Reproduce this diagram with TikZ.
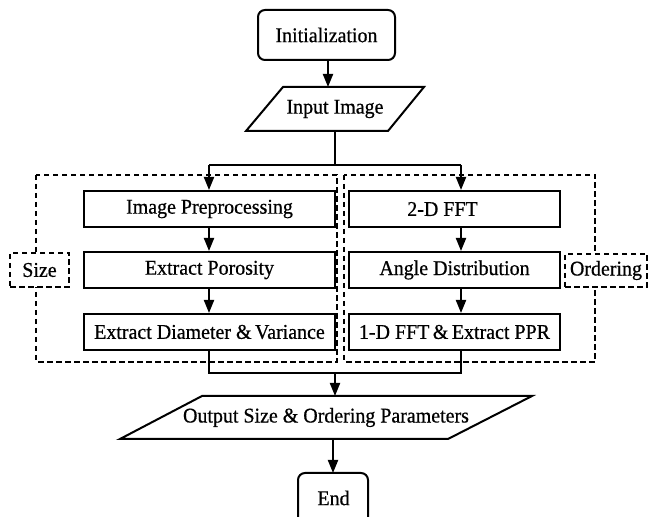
\documentclass[tikz,border=0pt]{standalone}
\usepackage{fontspec}
\setmainfont{Liberation Serif}[FakeStretch=0.95,FakeBold=0.6]
\usetikzlibrary{arrows.meta}
\begin{document}
\begin{tikzpicture}[x=0.5pt,y=-0.5pt,
  line width=1pt,
  txt/.style={font=\fontsize{10.5pt}{12pt}\selectfont, inner sep=0pt},
  procbox/.style={draw, txt, minimum height=18pt},
  leftbox/.style={procbox, minimum width=125.5pt},
  rightbox/.style={procbox, minimum width=105.5pt},
  termbox/.style={draw, rounded corners=3.5pt, txt},
  dashbox/.style={draw, dash pattern=on 2.75pt off 1.75pt, line width=1pt},
  lab/.style={dashbox, fill=white, txt},
  arr/.style={-{Triangle[length=6.5pt,width=5pt]}}
]
\useasboundingbox (0,0) rectangle (648,517);

% dashed group boxes
\draw[dashbox] (36,175) rectangle (337,362);
\draw[dashbox] (344,175) rectangle (595,362);
\node[lab, minimum width=29.5pt, minimum height=17pt] (size) at (39.5,270) {Size};
\node[lab, minimum width=41pt, minimum height=16.5pt] (ord) at (606,270.5) {Ordering};

% terminals
\node[termbox, minimum width=68.5pt, minimum height=25pt] (init) at (326.5,35) {Initialization};
\begin{scope}
\clip (0,0) rectangle (648,517);
\draw[rounded corners=3.5pt] (298,473) rectangle (368,530);
\end{scope}
\node[txt] (end) at (333.5,498) {End};
\coordinate (endTop) at (333,473);

% input parallelogram
\coordinate (inTL) at (283,87);
\coordinate (inTR) at (424,87);
\coordinate (inBR) at (388,131);
\coordinate (inBL) at (246,131);
\draw (inTL) -- (inTR) -- (inBR) -- (inBL) -- cycle;
\node[txt] (input) at (335,109) {Input Image};
\coordinate (inTop) at (328,87);
\coordinate (inBot) at (335,131);

% output parallelogram
\coordinate (outTL) at (202,396);
\coordinate (outTR) at (532,396);
\coordinate (outBR) at (448,439);
\coordinate (outBL) at (120,439);
\draw (outTL) -- (outTR) -- (outBR) -- (outBL) -- cycle;
\node[txt] (output) at (326,417.5) {Output Size \& Ordering Parameters};
\coordinate (outTop) at (335,396);
\coordinate (outBot) at (333,439);

% process boxes
\node[leftbox] (pre) at (209.5,209) {Image Preprocessing};
\node[leftbox] (por) at (209.5,270) {Extract Porosity};
\node[leftbox] (dia) at (209.5,332) {Extract Diameter \&\,Variance};
\node[rightbox] (fft2) at (454.5,209) {\hspace*{-12pt}2-D FFT};
\node[rightbox] (ang) at (454.5,270) {Angle Distribution};
\node[rightbox] (fft1) at (454.5,332) {1-D FFT\,\&\,Extract PPR};

% connectors
\draw[arr] (init.south -| inTop) -- (inTop);
\coordinate (splitL) at (209,165);
\coordinate (splitR) at (461,165);
\coordinate (splitM) at (335,165);
\draw (inBot) -- (splitM);
\draw (splitL) -- (splitR);
\draw[arr] (splitL) -- (splitL |- pre.north);
\draw[arr] (splitR) -- (splitR |- fft2.north);
\draw[arr] (pre.south -| splitL) -- (por.north -| splitL);
\draw[arr] (por.south -| splitL) -- (dia.north -| splitL);
\draw[arr] (fft2.south -| splitR) -- (ang.north -| splitR);
\draw[arr] (ang.south -| splitR) -- (fft1.north -| splitR);

\coordinate (joinL) at (209,373);
\coordinate (joinR) at (461,373);
\coordinate (joinM) at (335,373);
\draw (dia.south -| joinL) -- (joinL) -- (joinR) -- (fft1.south -| joinR);
\draw[arr] (joinM) -- (outTop);
\draw[arr] (outBot) -- (endTop);
\end{tikzpicture}
\end{document}
